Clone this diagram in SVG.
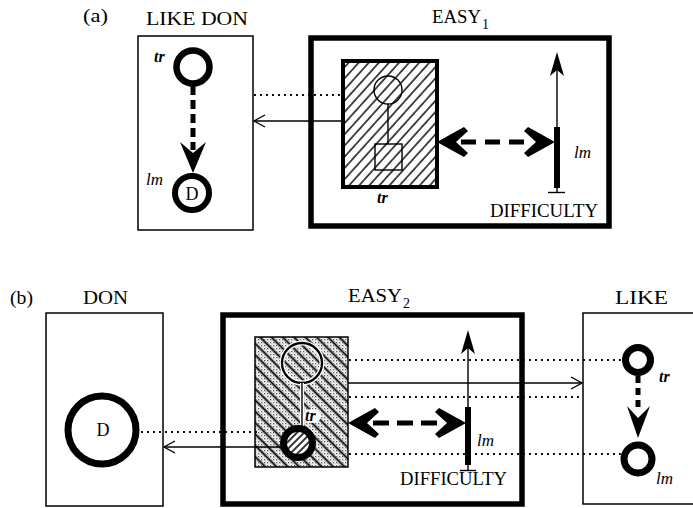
<svg xmlns="http://www.w3.org/2000/svg" width="693" height="508" viewBox="0 0 693 508">
<style>
.box{fill:#fff;stroke:#000;stroke-width:1.5}
.bold{fill:#fff;stroke:#000;stroke-width:5.5}
.thin{fill:none;stroke:#000;stroke-width:1.4}
.ring{fill:#fff;stroke:#000}
.dot{fill:none;stroke:#000;stroke-width:1.9;stroke-dasharray:1.9 4.1}
.dash{fill:none;stroke:#000;stroke-width:5}
.solid{fill:none;stroke:#000;stroke-width:1.4}
.blk{fill:#000;stroke:none}
.lbl{font-family:"Liberation Serif",serif;font-size:18px;fill:#000}
.sub{font-family:"Liberation Serif",serif;font-size:14px;fill:#000}
.it{font-family:"Liberation Serif",serif;font-style:italic;font-size:17px;fill:#000}
.tr{font-family:"Liberation Serif",serif;font-style:italic;font-weight:bold;font-size:16px;fill:#000}
</style>
<defs>
<pattern id="hatchA" patternUnits="userSpaceOnUse" width="7.5" height="7.5" patternTransform="rotate(42)">
<rect width="7.5" height="7.5" fill="#fff"/>
<line x1="1" y1="0" x2="1" y2="7.5" stroke="#000" stroke-width="1.4"/>
</pattern>
<pattern id="stip" patternUnits="userSpaceOnUse" width="3" height="3">
<rect width="3" height="3" fill="#fff"/>
<rect width="1.3" height="1.3" fill="#555"/>
<rect x="1.5" y="1.5" width="1" height="1" fill="#888"/>
</pattern>
<pattern id="hatchB" patternUnits="userSpaceOnUse" width="8" height="8" patternTransform="rotate(-45)">
<line x1="1" y1="0" x2="1" y2="8" stroke="#fff" stroke-width="4"/>
<line x1="1.5" y1="0" x2="1.5" y2="8" stroke="#000" stroke-width="2"/>
</pattern>
<pattern id="hatchC" patternUnits="userSpaceOnUse" width="5" height="5" patternTransform="rotate(45)">
<rect width="5" height="5" fill="#fff"/>
<line x1="1" y1="0" x2="1" y2="5" stroke="#000" stroke-width="1.6"/>
</pattern>
<path id="chev" d="M0,0 L27,-15 L31,-11 L19,0 L31,11 L27,15 Z"/>
<path id="upHead" d="M0,0 L-7,24 L0,18 L7,24 Z"/>
<marker id="open" viewBox="-13 -8 15 16" refX="0" refY="0" markerWidth="15" markerHeight="16" markerUnits="userSpaceOnUse" orient="auto">
<path d="M-11,-6 L0,0 L-11,6" fill="none" stroke="#000" stroke-width="1.4"/>
</marker>
</defs>

<!-- panel (a) -->
<text class="lbl" x="83" y="22" textLength="25" lengthAdjust="spacingAndGlyphs">(a)</text>

<g id="like-don">
<rect class="box" x="138" y="36" width="115" height="194"/>
<text class="lbl" x="146" y="25" textLength="102" lengthAdjust="spacingAndGlyphs">LIKE DON</text>
<circle class="ring" cx="193" cy="67" r="16.5" stroke-width="6.5"/>
<text class="tr" x="154" y="62">tr</text>
<line class="dash" x1="193" y1="86" x2="193" y2="150" stroke-dasharray="9 5"/>
<path class="blk" d="M180,142 L193,173 L206,142 L193,153 Z"/>
<circle class="ring" cx="192" cy="193" r="17" stroke-width="6"/>
<text class="lbl" x="192" y="200" font-size="18" text-anchor="middle">D</text>
<text class="it" x="146" y="185">lm</text>
</g>

<g id="easy1">
<rect class="bold" x="311" y="38" width="298" height="188"/>
<text class="lbl" x="432" y="23" font-size="19" textLength="49" lengthAdjust="spacingAndGlyphs">EASY</text>
<text class="sub" x="482" y="29">1</text>
<g id="easy1-trajector">
<rect x="343" y="61" width="94" height="126" fill="url(#hatchA)" stroke="#000" stroke-width="4"/>
<circle class="thin" cx="388" cy="90" r="14"/>
<line class="thin" x1="388" y1="104" x2="388" y2="144"/>
<rect class="thin" x="375" y="144" width="27" height="26"/>
<text class="tr" x="377" y="203">tr</text>
</g>
<g id="easy1-difficulty">
<line class="thin" x1="557" y1="64" x2="557" y2="192"/>
<use href="#upHead" x="557" y="52"/>
<rect class="blk" x="554" y="127" width="6" height="61"/>
<line class="thin" x1="548" y1="192.5" x2="565" y2="192.5" stroke-width="1.6"/>
<text class="it" x="574" y="158">lm</text>
<text class="lbl" x="490" y="217" font-size="16" textLength="108" lengthAdjust="spacingAndGlyphs">DIFFICULTY</text>
</g>
<g id="easy1-link">
<line class="dash" x1="461" y1="142" x2="525" y2="142" stroke-dasharray="15 9"/>
<use href="#chev" transform="translate(437,142)"/>
<use href="#chev" transform="translate(555,142) rotate(180)"/>
</g>
</g>

<!-- panel (b) -->
<text class="lbl" x="10" y="304" textLength="23" lengthAdjust="spacingAndGlyphs">(b)</text>

<g id="don">
<rect class="box" x="46" y="313" width="117" height="193"/>
<text class="lbl" x="83" y="304" textLength="45" lengthAdjust="spacingAndGlyphs">DON</text>
<circle class="ring" cx="102" cy="430" r="34" stroke-width="7"/>
<text class="lbl" x="103" y="436" text-anchor="middle">D</text>
</g>

<g id="easy2">
<rect class="bold" x="223" y="315" width="299" height="189" stroke-width="6"/>
<text class="lbl" x="348" y="302" font-size="19" textLength="54" lengthAdjust="spacingAndGlyphs">EASY</text>
<text class="sub" x="403" y="308">2</text>
<g id="easy2-trajector">
<rect x="255" y="337" width="93" height="130" fill="url(#stip)"/>
<rect x="255" y="337" width="93" height="130" fill="url(#hatchB)" stroke="#000" stroke-width="1.5"/>
<circle cx="302" cy="363" r="20" fill="none" stroke="#fff" stroke-width="5"/>
<circle cx="302" cy="363" r="20" fill="none" stroke="#000" stroke-width="2.3"/>
<line x1="302" y1="383" x2="302" y2="430" stroke="#fff" stroke-width="4"/>
<line class="thin" x1="302" y1="383" x2="302" y2="430"/>
<ellipse cx="312" cy="416" rx="9" ry="7" fill="#fff"/>
<text class="tr" x="305" y="421" font-size="14">tr</text>
<circle cx="298" cy="443" r="14.5" fill="url(#hatchC)" stroke="#000" stroke-width="7"/>
</g>
<g id="easy2-difficulty">
<line class="thin" x1="468" y1="342" x2="468" y2="470"/>
<use href="#upHead" x="468" y="330"/>
<rect class="blk" x="465" y="407" width="6" height="58"/>
<line class="thin" x1="460" y1="470.5" x2="476" y2="470.5" stroke-width="1.6"/>
<text class="it" x="477" y="446">lm</text>
<text class="lbl" x="400" y="485" font-size="16" textLength="107" lengthAdjust="spacingAndGlyphs">DIFFICULTY</text>
</g>
<g id="easy2-link">
<line class="dash" x1="373" y1="423" x2="440" y2="423" stroke-dasharray="16 8"/>
<use href="#chev" transform="translate(348,423)"/>
<use href="#chev" transform="translate(466,423) rotate(180)"/>
</g>
</g>

<g id="like">
<rect class="box" x="583" y="313" width="130" height="191"/>
<text class="lbl" x="615" y="304" textLength="53" lengthAdjust="spacingAndGlyphs">LIKE</text>
<circle class="ring" cx="638" cy="360" r="12.5" stroke-width="7"/>
<text class="tr" x="659" y="382">tr</text>
<line class="dash" x1="638" y1="376" x2="638" y2="412" stroke-dasharray="7 5"/>
<path class="blk" d="M627,406 L638,438 L650,406 L638,418 Z"/>
<circle class="ring" cx="638" cy="459" r="14" stroke-width="7"/>
<text class="it" x="656" y="484">lm</text>
</g>

<g id="connectors">
<line class="dot" x1="254" y1="95" x2="343" y2="95"/>
<line class="solid" x1="343" y1="121" x2="254" y2="121" marker-end="url(#open)"/>
<line class="dot" x1="141" y1="432" x2="257" y2="432"/>
<line class="solid" x1="281" y1="447" x2="164" y2="447" marker-end="url(#open)"/>
<line class="dot" x1="349" y1="360" x2="622" y2="360"/>
<line class="solid" x1="348" y1="383" x2="582" y2="383" marker-end="url(#open)"/>
<line class="dot" x1="349" y1="397" x2="583" y2="397"/>
<line class="dot" x1="349" y1="454" x2="621" y2="454"/>
</g>
</svg>
